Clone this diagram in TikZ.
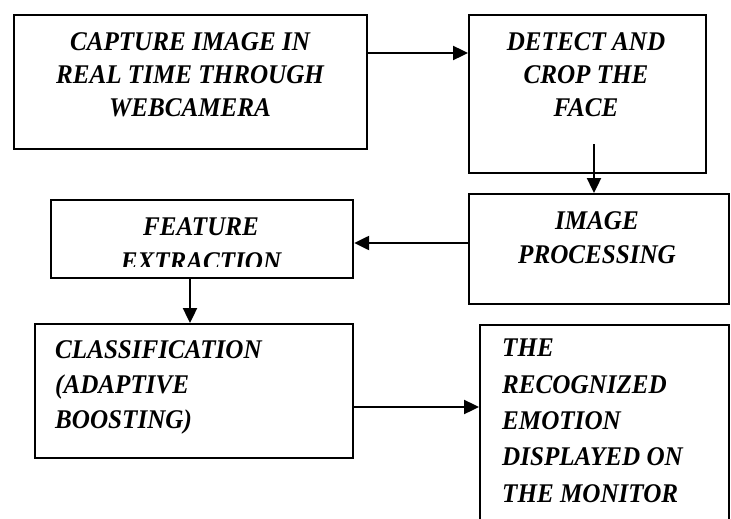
\documentclass[tikz,border=0pt]{standalone}
\usepackage{fontspec}
\setmainfont{Liberation Serif}
\newfontfamily\lblfont[FakeStretch=0.93]{Liberation Serif}
\usetikzlibrary{arrows.meta}
\begin{document}
\begin{tikzpicture}[x=1pt,y=-1pt,
  box/.style={draw=black,line width=2.2pt,rectangle,inner sep=0pt,anchor=north west},
  lbl/.style={font=\lblfont\fontsize{27}{33}\selectfont\bfseries\itshape,inner sep=0pt,anchor=base},
  conn/.style={line width=2.4pt,-{Triangle[length=15pt,width=14pt]}}]
\clip (0,0) rectangle (731,519);
\fill[white] (0,0) rectangle (731,519);
% boxes
\node[box,minimum width=353pt,minimum height=134pt] (b1) at (13,14) {};
\node[box,minimum width=237pt,minimum height=158pt] (b2) at (468,14) {};
\node[box,minimum width=260pt,minimum height=110pt] (b3) at (468,193) {};
\node[box,minimum width=302pt,minimum height=78pt] (b4) at (50,199) {};
\node[box,minimum width=318pt,minimum height=134pt] (b5) at (34,323) {};
\node[box,minimum width=249pt,minimum height=230pt] (b6) at (479,324) {};
% texts (anchor base = baseline of last line)
\node[lbl,align=center] (t1) at (190,116) {CAPTURE IMAGE IN\\REAL TIME THROUGH\\WEBCAMERA};
\node[lbl,align=center] (t2) at (586,116) {DETECT AND\\CROP THE\\FACE};
\node[lbl,align=center,font=\lblfont\fontsize{27}{34}\selectfont\bfseries\itshape] (t3) at (597,263) {IMAGE\\PROCESSING};
\begin{scope}
\clip (52,201) rectangle (350,266);
\node[lbl,align=center,font=\lblfont\fontsize{27}{35}\selectfont\bfseries\itshape] (t4) at (201,270) {FEATURE\\EXTRACTION};
\end{scope}
\node[lbl,align=left,anchor=base west,font=\lblfont\fontsize{27}{35}\selectfont\bfseries\itshape] (t5) at (55,428) {CLASSIFICATION\\(ADAPTIVE\\BOOSTING)};
\node[lbl,align=left,anchor=base west,font=\lblfont\fontsize{27}{36.3}\selectfont\bfseries\itshape] (t6) at (502,502) {THE\\RECOGNIZED\\EMOTION\\DISPLAYED ON\\THE MONITOR};
% connectors
\coordinate (a2s) at (594,144);
\draw[conn] (b1.east |- 0,53) -- (b2.west |- 0,53);
\draw[conn] (a2s) -- (a2s |- b3.north);
\draw[conn] (b3.west |- 0,243) -- (b4.east |- 0,243);
\draw[conn] (b4.south -| 190,0) -- (b5.north -| 190,0);
\draw[conn] (b5.east |- 0,407) -- (b6.west |- 0,407);
\end{tikzpicture}
\end{document}
